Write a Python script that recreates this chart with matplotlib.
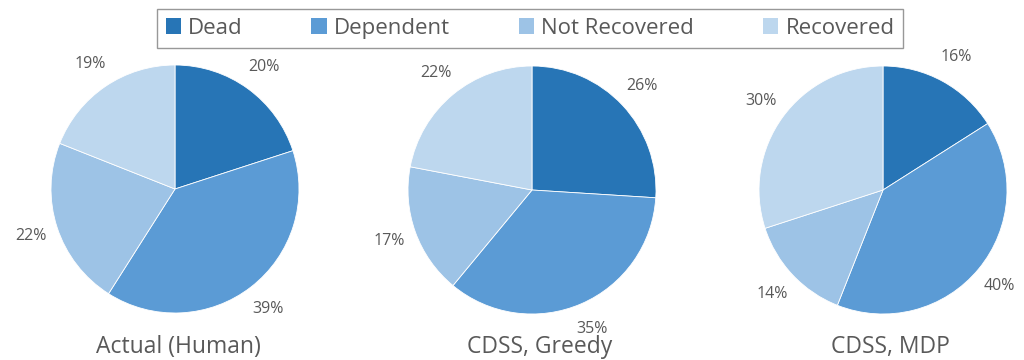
import matplotlib.pyplot as plt
from matplotlib.patches import Patch

# outcome categories and shares (%) per policy
categories = ['Dead', 'Dependent', 'Not Recovered', 'Recovered']
actual_human = [20, 39, 22, 19]
cdss_greedy = [26, 35, 17, 22]
cdss_mdp = [16, 40, 14, 30]
titles = ['Actual (Human)', 'CDSS, Greedy', 'CDSS, MDP']

colors = ['#2775B6', '#5B9BD5', '#9DC3E6', '#BDD7EE']
text_color = '#595959'

plt.rcParams['font.family'] = ['Open Sans', 'DejaVu Sans']

fig = plt.figure(figsize=(10.24, 3.6), dpi=100)

# pie centres in pixels (x from left, y from top), radius in px
centers = [(175, 189), (532, 190), (883, 190)]
title_pos = [(178, 347), (540, 347), (890, 347)]
radius_px = 124
lim = 1.4
box = 2 * lim * radius_px

for (cx, cy), vals, title, (tx, ty) in zip(centers, [actual_human, cdss_greedy, cdss_mdp], titles, title_pos):
    ax = fig.add_axes([(cx - box / 2) / 1024, (360 - cy - box / 2) / 360, box / 1024, box / 360])
    ax.pie(vals, colors=colors, startangle=90, counterclock=False,
           autopct='%d%%', pctdistance=1.22,
           wedgeprops=dict(edgecolor='white', linewidth=0.6),
           textprops=dict(color=text_color, fontsize=11.5))
    ax.set_xlim(-lim, lim)
    ax.set_ylim(-lim, lim)
    ax.set_aspect('equal')
    ax.axis('off')
    fig.text(tx / 1024, 1 - ty / 360, title, ha='center', va='center',
             fontsize=16.5, color=text_color)

handles = [Patch(facecolor=c, edgecolor='none') for c in colors]
leg = fig.legend(handles, categories, loc='upper center', ncol=4,
                 bbox_to_anchor=(530 / 1024, 1 - 9 / 360), frameon=True,
                 fancybox=False, fontsize=16, handlelength=0.68, handleheight=0.68,
                 handletextpad=0.33, columnspacing=3.1, borderpad=0.4,
                 borderaxespad=0, labelcolor=text_color)
leg.get_frame().set_edgecolor('#7f7f7f')
leg.get_frame().set_linewidth(1.0)

fig.savefig('out.png', dpi=100)
